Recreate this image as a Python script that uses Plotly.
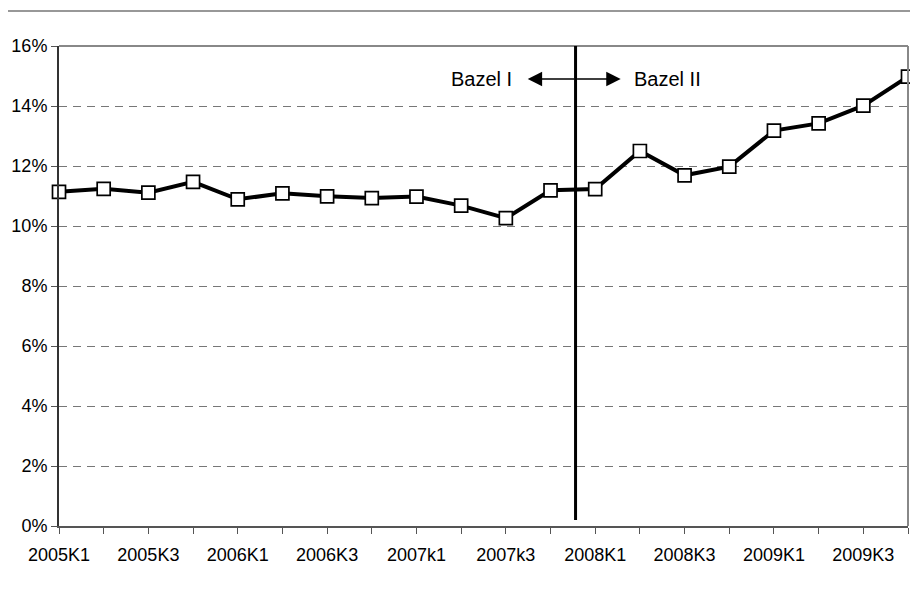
import plotly.graph_objects as go

categories = ["2005K1", "2005K2", "2005K3", "2005K4",
              "2006K1", "2006K2", "2006K3", "2006K4",
              "2007k1", "2007k2", "2007k3", "2007k4",
              "2008K1", "2008K2", "2008K3", "2008K4",
              "2009K1", "2009K2", "2009K3", "2009K4"]
values = [11.14, 11.24, 11.11, 11.47, 10.89, 11.09, 10.99, 10.93, 10.98, 10.68,
          10.26, 11.19, 11.23, 12.50, 11.69, 11.98, 13.18, 13.42, 14.01, 14.98]
ytick_vals = [0, 2, 4, 6, 8, 10, 12, 14, 16]
ytick_text = ["0%", "2%", "4%", "6%", "8%", "10%", "12%", "14%", "16%"]
xtick_text = [c if i % 2 == 0 else "" for i, c in enumerate(categories)]
regime_labels = ["Bazel I", "Bazel II"]
split_pos = 11.56

FONT = "Liberation Sans, Arial, sans-serif"

fig = go.Figure()
fig.add_trace(go.Scatter(
    x=categories, y=values, mode="lines+markers",
    line=dict(color="black", width=4),
    marker=dict(symbol="square", size=13, color="white",
                line=dict(color="black", width=1.7)),
    showlegend=False, cliponaxis=False,
))

fig.update_layout(
    width=910, height=593,
    margin=dict(l=59, r=2, t=46, b=67),
    paper_bgcolor="white", plot_bgcolor="white",
    font=dict(family=FONT, size=18, color="black"),
    xaxis=dict(
        type="category", range=[0, 19],
        tickmode="array", tickvals=categories, ticktext=xtick_text,
        ticks="outside", ticklen=6, tickcolor="#555555", tickwidth=1,
        showline=True, linecolor="#555555", linewidth=2,
        mirror=False, showgrid=False, zeroline=False,
        tickfont=dict(size=18), ticklabelstandoff=5,
    ),
    yaxis=dict(
        range=[0, 16], tickvals=ytick_vals, ticktext=ytick_text,
        ticks="outside", ticklen=6, tickcolor="#555555", tickwidth=1,
        showline=True, linecolor="#333333", linewidth=2,
        showgrid=True, gridcolor="#777777", griddash="8px,6px", gridwidth=1,
        zeroline=False, tickfont=dict(size=18),
    ),
)

# plot frame top and right borders
fig.add_shape(type="line", xref="paper", yref="paper", x0=0, x1=1, y0=1, y1=1,
              line=dict(color="#888888", width=2))
fig.add_shape(type="line", xref="paper", yref="paper", x0=1, x1=1, y0=0, y1=1,
              line=dict(color="#888888", width=2))
# top separator line above chart
fig.add_shape(type="line", xref="paper", yref="paper", x0=-0.0601, x1=1.0024,
              y0=1.0729, y1=1.0729, line=dict(color="#333333", width=1.2))
# regime split line
fig.add_shape(type="line", xref="x", yref="y", x0=split_pos, x1=split_pos,
              y0=0.2, y1=16, line=dict(color="black", width=3))

# arrows
fig.add_annotation(x=10.49, y=14.9, ax=split_pos, ay=14.9, xref="x", yref="y",
                   axref="x", ayref="y", text="", showarrow=True,
                   arrowhead=2, arrowsize=1.8, arrowwidth=1.6, arrowcolor="black")
fig.add_annotation(x=12.57, y=14.9, ax=split_pos, ay=14.9, xref="x", yref="y",
                   axref="x", ayref="y", text="", showarrow=True,
                   arrowhead=2, arrowsize=1.8, arrowwidth=1.6, arrowcolor="black")
fig.add_annotation(x=10.18, y=14.9, xref="x", yref="y", text=regime_labels[0],
                   showarrow=False, xanchor="right", font=dict(size=20))
fig.add_annotation(x=12.82, y=14.9, xref="x", yref="y", text=regime_labels[1],
                   showarrow=False, xanchor="left", font=dict(size=20))

fig.write_html("out.html",
               config={"displayModeBar": False},
               post_script="document.body.style.margin='0';"
                           "document.body.style.overflow='hidden';")
